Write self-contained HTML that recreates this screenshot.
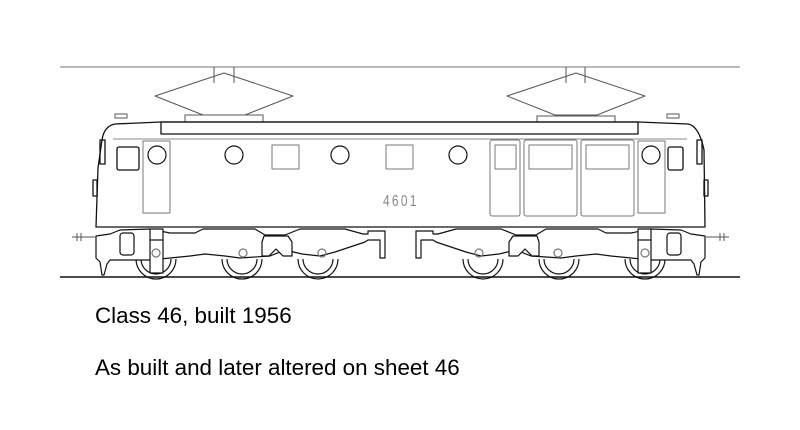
<!DOCTYPE html>
<html><head><meta charset="utf-8"><style>
html,body{margin:0;padding:0;background:#fff;width:800px;height:430px;overflow:hidden}
svg{display:block}
text{font-family:"Liberation Sans",sans-serif}
</style></head><body>
<svg width="800" height="430" viewBox="0 0 800 430" xmlns="http://www.w3.org/2000/svg">
<g fill="none" stroke-linejoin="round">
<line x1="60" y1="67" x2="740" y2="67" stroke="#777" stroke-width="1"/>
<g stroke="#555" stroke-width="1">
<polygon points="155,96 224,73 293,96 245,115 203,115"/>
<line x1="214" y1="67" x2="214" y2="83"/><line x1="234" y1="67" x2="234" y2="83"/>
<rect x="185" y="115" width="78" height="7"/>
<polygon points="507,96 576,73 645,96 597,115 555,115"/>
<line x1="566" y1="67" x2="566" y2="83"/><line x1="585" y1="67" x2="585" y2="83"/>
<rect x="537" y="116" width="78" height="6"/>
<rect x="115" y="114" width="12" height="4"/>
<rect x="667" y="114" width="12" height="4"/>
</g>
<g stroke="#111" stroke-width="1.3">
<path d="M161,122 L115,124 Q104,126 102,140 L98,168 L96,227 L705,227 L704,150 Q699,126 688,124 L638,122 Z" fill="#fff"/>
<rect x="161" y="122" width="477" height="12"/>
<rect x="117" y="147" width="22" height="23" rx="2"/>
<rect x="668" y="147" width="15" height="23" rx="2"/>
<rect x="100" y="140" width="5" height="24"/>
<rect x="697" y="140" width="5" height="24"/>
<rect x="93" y="180" width="4" height="16"/>
<rect x="704" y="180" width="4" height="16"/>
</g>
<line x1="113" y1="139" x2="687" y2="139" stroke="#888" stroke-width="1"/>
<g stroke="#777" stroke-width="1">
<rect x="143" y="141" width="27" height="72"/>
<rect x="638" y="141" width="27" height="72"/>
<rect x="272" y="145" width="27" height="24"/>
<rect x="386" y="145" width="27" height="24"/>
<rect x="490" y="140" width="30" height="76" rx="2"/>
<rect x="495" y="145" width="21" height="24"/>
<rect x="524" y="140" width="53" height="76" rx="2"/>
<rect x="529" y="145" width="43" height="24"/>
<rect x="581" y="140" width="53" height="76" rx="2"/>
<rect x="586" y="145" width="43" height="24"/>
</g>
<g stroke="#111" stroke-width="1.2">
<circle cx="157" cy="155" r="9"/><circle cx="234" cy="155" r="9"/>
<circle cx="340" cy="155" r="9"/><circle cx="458" cy="155" r="9"/>
<circle cx="651" cy="155" r="9"/>
</g>
<g id="bog" stroke="#111" stroke-width="1.2">
<path d="M72,237 L95,237 M77,233 L77,241 M81,233 L81,241" stroke="#555" stroke-width="1"/>
<path d="M136,259 A20,20 0 0 0 176,259 M141,259 A15,15 0 0 0 171,259"/>
<path d="M222,259 A20,20 0 0 0 262,259 M227,259 A15,15 0 0 0 257,259"/>
<path d="M298,259 A20,20 0 0 0 338,259 M303,259 A15,15 0 0 0 333,259"/>
<path d="M96,236 L110,234 L120,230 L150,229 L170,233 L195,233 L203,229 L255,229 L265,235 L285,235 L300,229 L345,229 L363,234 L368,234 L368,231 L385,231 L385,258 L380,258 L380,240 L368,240 L365,242 L335,252 L320,256 L302,254 L285,250 L270,256 L240,258 L225,256 L205,254 L190,256 L170,258 L150,260 L110,260 L107,264 L104,275 L102,275 L100,262 L96,258 Z" fill="#fff"/>
<path d="M264,236 L288,236 L292,242 L292,256 L283,256 L276,249 L269,256 L262,256 L262,242 Z" fill="#fff"/>
<rect x="120" y="233" width="14" height="22" rx="3" fill="#fff"/>
<rect x="150" y="229" width="13" height="44" fill="#fff"/>
<line x1="150" y1="240" x2="163" y2="240"/>
<circle cx="156" cy="253" r="4" stroke="#777"/>
<circle cx="243" cy="253" r="4" stroke="#777"/>
<circle cx="322" cy="253" r="4" stroke="#777"/>
</g>
<use href="#bog" transform="translate(801,0) scale(-1,1)"/>
<line x1="60" y1="277" x2="740" y2="277" stroke="#111" stroke-width="1.5"/>
</g>
<text x="383" y="206" font-size="16" fill="#888" letter-spacing="3" transform="translate(383,0) scale(0.75,1) translate(-383,0)">4601</text>
<text x="95" y="323" font-size="22.4" fill="#000">Class 46, built 1956</text>
<text x="95" y="375" font-size="22.4" fill="#000">As built and later altered on sheet 46</text>
</svg>
</body></html>
